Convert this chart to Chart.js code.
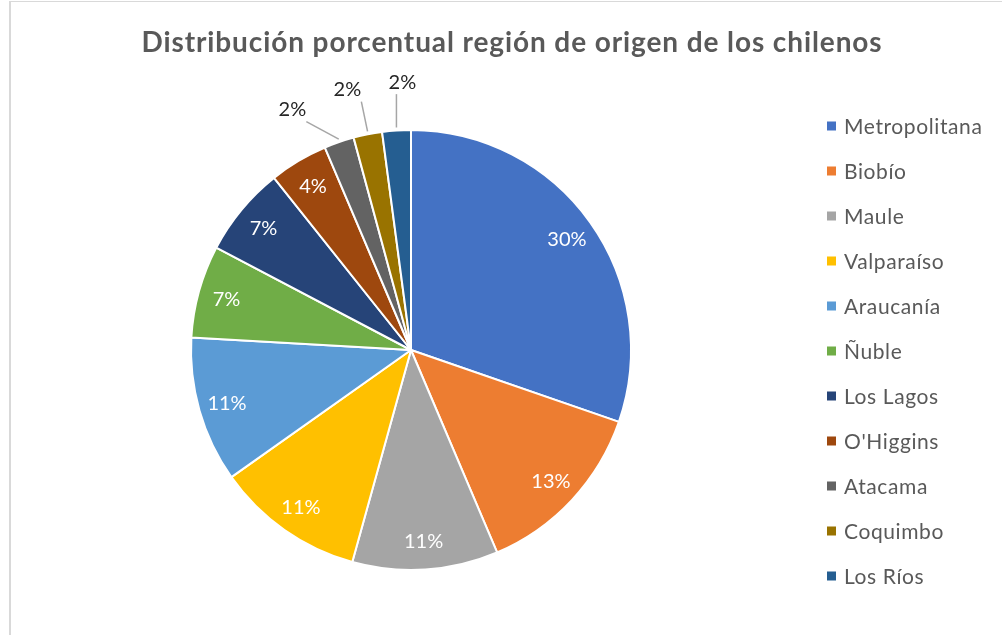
<!DOCTYPE html>
<html>
<head>
<meta charset="utf-8">
<script src="https://cdn.jsdelivr.net/npm/chart.js@4.4.1/dist/chart.umd.min.js"></script>
<style>
  html, body { margin: 0; padding: 0; background: #fff; }
  #frame {
    position: absolute; left: 9px; top: 1px; width: 1100px; height: 700px;
    border-left: 2px solid #d9d9d9; border-top: 1px solid #d9d9d9;
  }
  #chart { position: absolute; left: 0; top: 0; }
</style>
</head>
<body>
<div id="frame"></div>
<canvas id="chart" width="1002" height="635"></canvas>
<script>
// -----------------------------
// DATA
// -----------------------------
const regions = ["Metropolitana", "Biobío", "Maule", "Valparaíso", "Araucanía", "Ñuble",
                 "Los Lagos", "O'Higgins", "Atacama", "Coquimbo", "Los Ríos"];
const shares = [30.3, 13.3, 10.7, 10.9, 10.7, 6.8, 6.6, 4.3, 2.2, 2.1, 2.1];
const sliceColors = ["#4472C4", "#ED7D31", "#A5A5A5", "#FFC000", "#5B9BD5", "#70AD47",
                     "#264478", "#9E480E", "#636363", "#997300", "#255E91"];
const chartTitle = "Distribución porcentual región de origen de los chilenos";

const FONT = "Lato, 'Open Sans', sans-serif";
const TEXT_GREY = "#595959";


// -----------------------------
// TITLE, LEGEND AND LABELS (drawn by hand)
// -----------------------------
const decorations = {
    id: "decorations",
    afterDraw(chart) {
        const ctx = chart.ctx;
        const meta = chart.getDatasetMeta(0);
        const total = shares.reduce((a, b) => a + b, 0);

        ctx.save();

        // title
        ctx.font = "bold 28px " + FONT;
        ctx.letterSpacing = "0.9px";
        ctx.fillStyle = TEXT_GREY;
        ctx.textAlign = "center";
        ctx.textBaseline = "middle";
        ctx.fillText(chartTitle, 512, 43);

        // legend
        ctx.font = "21px " + FONT;
        ctx.letterSpacing = "0.6px";
        ctx.textAlign = "left";
        regions.forEach((name, i) => {
            const y = 126 + i * 45;
            ctx.fillStyle = sliceColors[i];
            ctx.fillRect(827, y - 4.5, 9, 9);
            ctx.fillStyle = TEXT_GREY;
            ctx.fillText(name, 844, y + 1);
        });
        ctx.letterSpacing = "0px";

        // slice labels
        const outside = [];
        meta.data.forEach((arc, i) => {
            const p = arc.getProps(["x", "y", "startAngle", "endAngle", "outerRadius"], true);
            const mid = (p.startAngle + p.endAngle) / 2;
            const pct = shares[i] / total;
            const text = Math.round(pct * 100) + "%";
            if (pct >= 0.03) {
                const r = p.outerRadius * 0.87;
                ctx.font = "20px " + FONT;
                ctx.fillStyle = "#ffffff";
                ctx.textAlign = "center";
                ctx.fillText(text, p.x + Math.cos(mid) * r, p.y + Math.sin(mid) * r + 1);
            } else {
                const lr = p.outerRadius + 48;
                outside.push({
                    text,
                    cx: p.x, cy: p.y, R: lr,
                    x: p.x + Math.cos(mid) * lr,
                    ex: p.x + Math.cos(mid) * (p.outerRadius + 1),
                    ey: p.y + Math.sin(mid) * (p.outerRadius + 1)
                });
            }
        });

        // spread the small outside labels so they do not overlap
        if (outside.length) {
            outside.sort((a, b) => a.x - b.x);
            const gap = 55;
            const mean = outside.reduce((s, o) => s + o.x, 0) / outside.length - gap / 5;
            outside.forEach((o, k) => {
                o.x = mean + (k - (outside.length - 1) / 2) * gap;
                const dx = o.x - o.cx;
                o.y = o.cy - Math.sqrt(Math.max(o.R * o.R - dx * dx, 0));
            });
            outside.forEach(o => {
                ctx.strokeStyle = "#a6a6a6";
                ctx.lineWidth = 1.5;
                const sx = o.x + Math.max(-14, Math.min(14, o.ex - o.x));
                ctx.beginPath();
                ctx.moveTo(sx, o.y + 12);
                ctx.lineTo(o.ex, o.ey - 2);
                ctx.stroke();

                ctx.font = "20px " + FONT;
                ctx.fillStyle = "#262626";
                ctx.textAlign = "center";
                ctx.fillText(o.text, o.x, o.y);
            });
        }

        ctx.restore();
    }
};


// -----------------------------
// CHART
// -----------------------------
const ctx = document.getElementById("chart").getContext("2d");
new Chart(ctx, {
    type: "pie",
    data: {
        labels: regions,
        datasets: [{
            data: shares,
            backgroundColor: sliceColors,
            borderColor: "#ffffff",
            borderWidth: 2
        }]
    },
    options: {
        responsive: false,
        animation: false,
        events: [],
        radius: 220,
        layout: {
            padding: { top: 130, bottom: 65, left: 191, right: 371 }
        },
        plugins: {
            legend: { display: false },
            title: { display: false },
            tooltip: { enabled: false }
        }
    },
    plugins: [decorations]
});
</script>
</body>
</html>
